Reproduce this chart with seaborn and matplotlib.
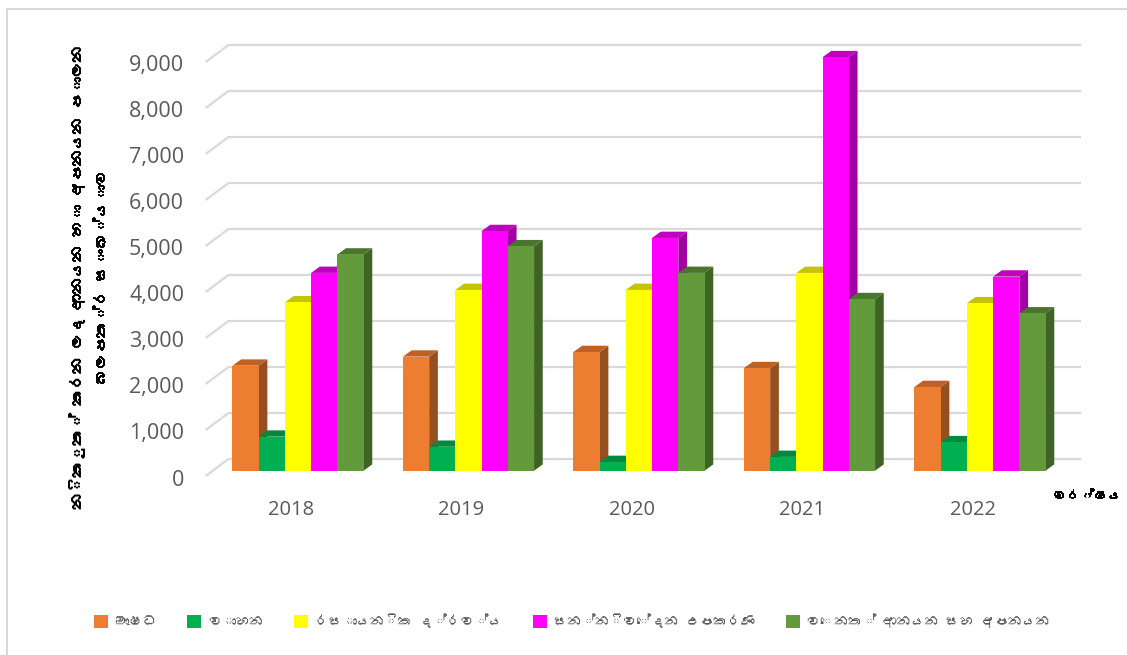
import warnings
import matplotlib
matplotlib.use("Agg")
import matplotlib.pyplot as plt
import matplotlib.patheffects as pe
from matplotlib import font_manager as fm
from matplotlib.lines import Line2D
from matplotlib.patches import Patch, Polygon
from matplotlib.transforms import ScaledTranslation
import pandas as pd
import seaborn as sns

years = ["2018", "2019", "2020", "2021", "2022"]
series_names = ["ඖෂධ", "වාහන", "රසායනික ද්රව්ය", "සන්නිවේදන උපකරණ", "වෙනත් ආනයන සහ අපනයන"]
medicine = [2283, 2480, 2580, 2230, 1820]
vehicles = [740, 520, 190, 300, 620]
chemicals = [3660, 3930, 3930, 4300, 3640]
telecom = [4300, 5210, 5060, 8990, 4220]
other = [4700, 4880, 4300, 3730, 3420]
y_ticks = [0, 1000, 2000, 3000, 4000, 5000, 6000, 7000, 8000, 9000]
y_title = "නිකුත් කරන ලද ආනයන හා අපනයන පාලන\nබලපත්ර සංඛ්යාව"
x_title = "වර්ෂය"

front = ["#ED7D31", "#00B050", "#FFFF00", "#FF00FF", "#629A3C"]
top = ["#BF6125", "#008A3D", "#C4C400", "#BF00BF", "#4B742C"]
side = ["#96501F", "#007A37", "#A3A300", "#A300A3", "#3F6225"]
GRID = "#D9D9D9"
TXT = "#595959"

# look for an installed face with Sinhala glyphs, otherwise keep the default chain
sinhala = None
for path in fm.findSystemFonts():
    try:
        if 0x0DC3 in fm.get_font(path).get_charmap():
            sinhala = fm.FontProperties(fname=path).get_name()
            break
    except Exception:
        pass
fam = ["Open Sans", "DejaVu Sans"]
sfam = ([sinhala] if sinhala else []) + fam

sns.set_theme(style="white")
plt.rcParams["font.family"] = fam
warnings.filterwarnings("ignore")

W, H = 1127, 655
fig = plt.figure(figsize=(W / 100, H / 100), dpi=100, facecolor="white")
L, R, B, T = 205.7, 1081.0, 476.0, 45.0
ax = fig.add_axes([L / W, 1 - B / H, (R - L) / W, (B - T) / H])
ax.set_facecolor("none")

df = pd.DataFrame({
    "year": years * 5,
    "series": [s for s in series_names for _ in years],
    "value": medicine + vehicles + chemicals + telecom + other,
})
sns.barplot(data=df, x="year", y="value", hue="series", hue_order=series_names,
            palette=front, saturation=1, width=0.769, gap=0, errorbar=None,
            legend=False, ax=ax, zorder=3)

pxx = 170.5
pxy = 0.046
xc0 = 298.0
ax.set_xlim((L - xc0) / pxx, (R - xc0) / pxx)
ax.set_ylim((470.7 - B) / pxy, (470.7 - T) / pxy)

dx, dy = 8.7 / pxx, 6.3 / pxy
for i, cont in enumerate(ax.containers):
    for bar in cont:
        x0, w, h = bar.get_x(), bar.get_width(), bar.get_height()
        x1 = x0 + w
        bar.set_zorder(3 + i + 0.5)
        bar.set_linewidth(0)
        ax.add_patch(Polygon([(x1, 0), (x1 + dx, dy), (x1 + dx, h + dy), (x1, h)],
                             closed=True, fc=side[i], ec="none", zorder=3 + i))
        ax.add_patch(Polygon([(x0, h), (x0 + dx, h + dy), (x1 + dx, h + dy), (x1, h)],
                             closed=True, fc=top[i], ec="none", zorder=3 + i))

# back wall and left wall gridlines
wall_up = (470.7 - 459.0) / pxy
front_down = (470.7 - 476.0) / pxy
xl, xw = (L - xc0) / pxx, (228.5 - xc0) / pxx
xr = (R - xc0) / pxx
for v in y_ticks:
    ax.plot([xl, xw, xr], [v + front_down, v + wall_up, v + wall_up], color=GRID, lw=1.6,
            zorder=1, clip_on=False, solid_capstyle="butt")

ax.set_yticks(y_ticks)
ax.set_yticklabels([f"{v:,}" for v in y_ticks], fontsize=15.5, color=TXT)
ax.set_xlabel("")
ax.set_ylabel("")
ax.tick_params(axis="y", length=0, pad=15.6)
ax.tick_params(axis="x", length=0, pad=17)
for t in ax.get_xticklabels():
    t.set_fontsize(14.5)
    t.set_color(TXT)
    t.set_transform(t.get_transform() + ScaledTranslation(-7 / 100, 0, fig.dpi_scale_trans))
for t in ax.get_yticklabels():
    t.set_transform(t.get_transform() + ScaledTranslation(0, -6.8 / 100, fig.dpi_scale_trans))
sns.despine(ax=ax, left=True, bottom=True)

# axis titles
bold = [pe.withStroke(linewidth=0.7, foreground="black")]
fig.text(88 / W, 1 - 277 / H, y_title, rotation=90, ha="center", va="center", fontsize=11.5,
         color="black", family=sfam, linespacing=1.75, multialignment="center",
         path_effects=bold)
fig.text(1087 / W, 1 - 496 / H, x_title, ha="center", va="center", fontsize=9.8,
         color="black", family=sfam, path_effects=bold)

# legend
handles = [Patch(fc=c, ec="none") for c in front]
fig.legend(handles, series_names, ncol=5, loc="center", bbox_to_anchor=(572 / W, 1 - 621 / H),
           frameon=False, prop=fm.FontProperties(family=sfam, size=10), labelcolor=TXT,
           handlelength=1.0, handleheight=1.0, handletextpad=0.5, columnspacing=2.2,
           borderpad=0, borderaxespad=0)

# chart frame
fig.add_artist(Line2D([6.5 / W, 6.5 / W, 1], [0, 1 - 8.5 / H, 1 - 8.5 / H], color=GRID, lw=1.5))

fig.savefig("out.png", dpi=100, facecolor="white")
